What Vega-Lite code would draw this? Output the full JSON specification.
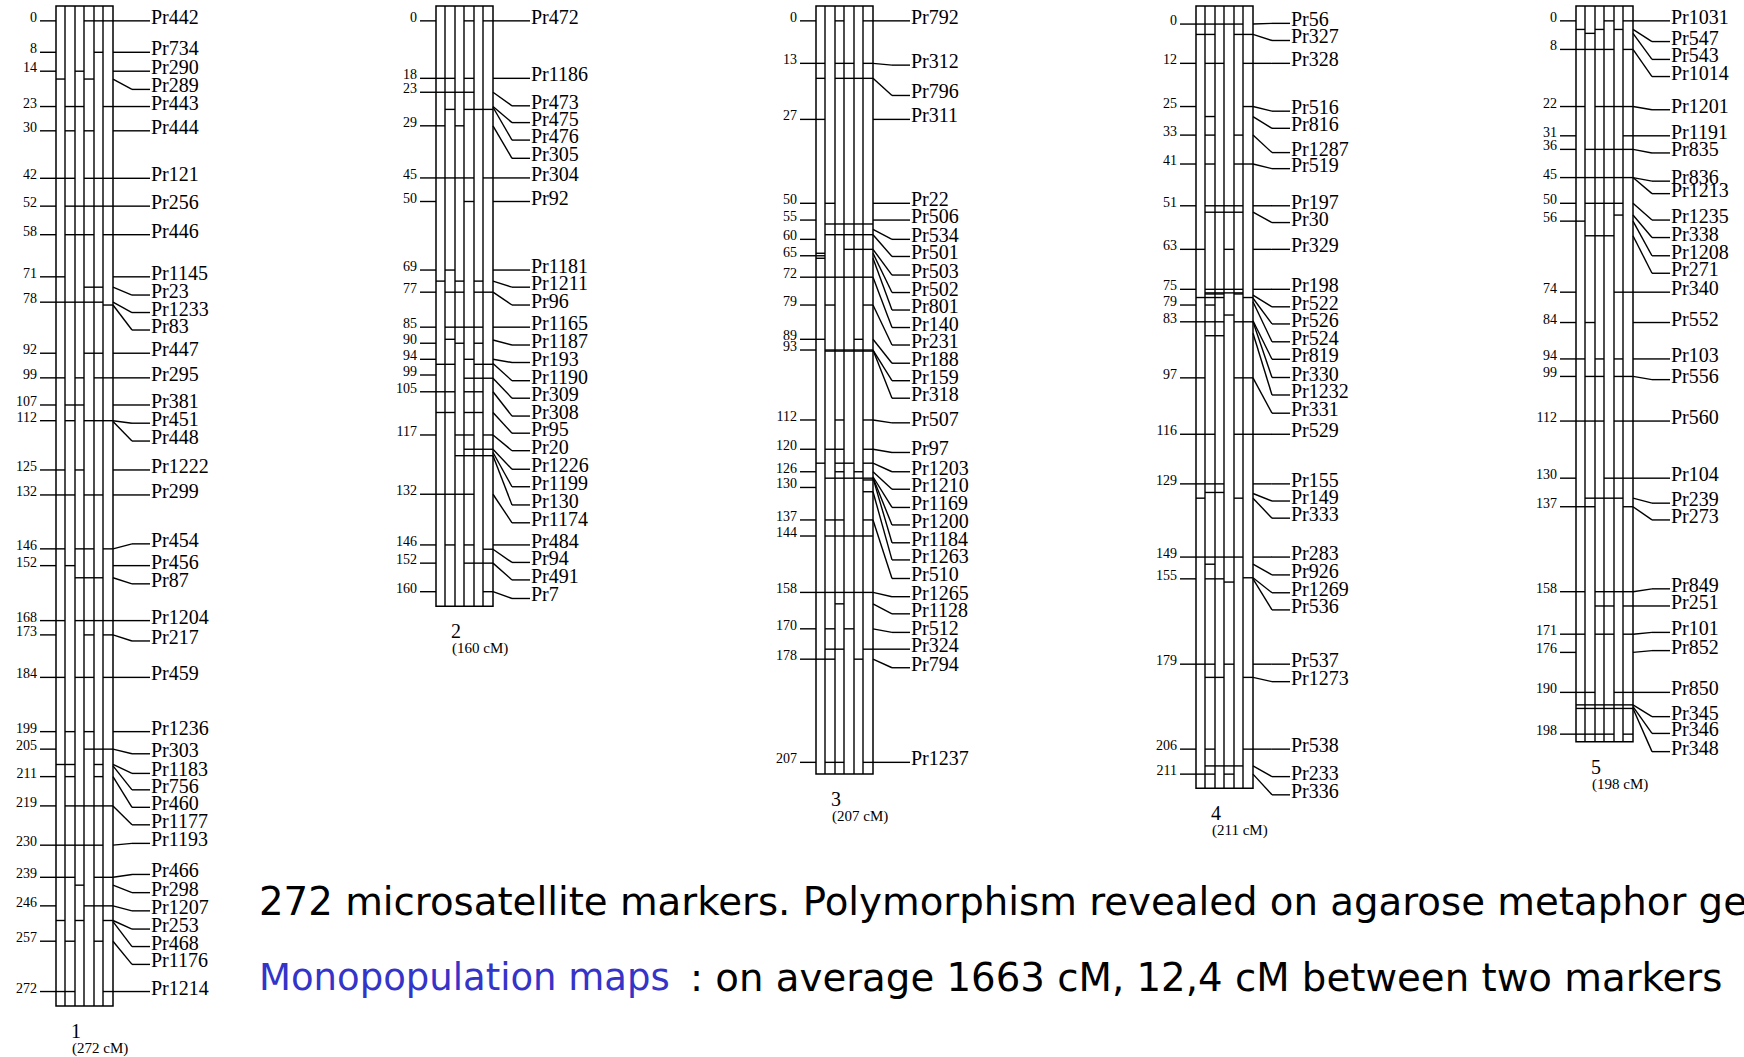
{
"$schema": "https://vega.github.io/schema/vega-lite/v6.json",
"width": 1744, "height": 1057, "autosize": "none", "padding": 0, "background": "white",
"config": {"view": {"stroke": null}},
"datasets": {
"chroms": [
{"chr":1,"len":272,"num":"1","sub":"(272 cM)"},
{"chr":2,"len":160,"num":"2","sub":"(160 cM)"},
{"chr":3,"len":207,"num":"3","sub":"(207 cM)"},
{"chr":4,"len":211,"num":"4","sub":"(211 cM)"},
{"chr":5,"len":198,"num":"5","sub":"(198 cM)"}],
"ticks": [
{"chr":1,"pos":-0.6,"lab":"0"},{"chr":1,"pos":8.2,"lab":"8"},{"chr":1,"pos":13.5,"lab":"14"},{"chr":1,"pos":23.4,"lab":"23"},{"chr":1,"pos":30.2,"lab":"30"},{"chr":1,"pos":43.5,"lab":"42"},{"chr":1,"pos":51.3,"lab":"52"},{"chr":1,"pos":59.3,"lab":"58"},{"chr":1,"pos":71.1,"lab":"71"},{"chr":1,"pos":78.2,"lab":"78"},{"chr":1,"pos":92.5,"lab":"92"},{"chr":1,"pos":99.4,"lab":"99"},{"chr":1,"pos":107.0,"lab":"107"},{"chr":1,"pos":111.4,"lab":"112"},{"chr":1,"pos":125.2,"lab":"125"},{"chr":1,"pos":132.2,"lab":"132"},{"chr":1,"pos":147.3,"lab":"146"},{"chr":1,"pos":152.0,"lab":"152"},{"chr":1,"pos":167.4,"lab":"168"},{"chr":1,"pos":171.4,"lab":"173"},{"chr":1,"pos":183.3,"lab":"184"},{"chr":1,"pos":198.5,"lab":"199"},{"chr":1,"pos":203.4,"lab":"205"},{"chr":1,"pos":211.1,"lab":"211"},{"chr":1,"pos":219.3,"lab":"219"},{"chr":1,"pos":230.3,"lab":"230"},{"chr":1,"pos":239.3,"lab":"239"},{"chr":1,"pos":247.3,"lab":"246"},{"chr":1,"pos":257.2,"lab":"257"},{"chr":1,"pos":271.3,"lab":"272"},
{"chr":2,"pos":-0.6,"lab":"0"},{"chr":2,"pos":15.5,"lab":"18"},{"chr":2,"pos":19.4,"lab":"23"},{"chr":2,"pos":28.8,"lab":"29"},{"chr":2,"pos":43.4,"lab":"45"},{"chr":2,"pos":50.0,"lab":"50"},{"chr":2,"pos":69.2,"lab":"69"},{"chr":2,"pos":75.4,"lab":"77"},{"chr":2,"pos":85.2,"lab":"85"},{"chr":2,"pos":89.7,"lab":"90"},{"chr":2,"pos":94.2,"lab":"94"},{"chr":2,"pos":98.6,"lab":"99"},{"chr":2,"pos":103.3,"lab":"105"},{"chr":2,"pos":115.4,"lab":"117"},{"chr":2,"pos":132.0,"lab":"132"},{"chr":2,"pos":146.2,"lab":"146"},{"chr":2,"pos":151.3,"lab":"152"},{"chr":2,"pos":159.3,"lab":"160"},
{"chr":3,"pos":-0.6,"lab":"0"},{"chr":3,"pos":11.3,"lab":"13"},{"chr":3,"pos":27.0,"lab":"27"},{"chr":3,"pos":50.5,"lab":"50"},{"chr":3,"pos":55.2,"lab":"55"},{"chr":3,"pos":60.6,"lab":"60"},{"chr":3,"pos":65.2,"lab":"65"},{"chr":3,"pos":71.2,"lab":"72"},{"chr":3,"pos":79.0,"lab":"79"},{"chr":3,"pos":88.6,"lab":"89"},{"chr":3,"pos":91.6,"lab":"93"},{"chr":3,"pos":111.2,"lab":"112"},{"chr":3,"pos":119.4,"lab":"120"},{"chr":3,"pos":125.7,"lab":"126"},{"chr":3,"pos":130.1,"lab":"130"},{"chr":3,"pos":139.2,"lab":"137"},{"chr":3,"pos":143.7,"lab":"144"},{"chr":3,"pos":159.5,"lab":"158"},{"chr":3,"pos":169.7,"lab":"170"},{"chr":3,"pos":178.2,"lab":"178"},{"chr":3,"pos":207.1,"lab":"207"},
{"chr":4,"pos":0.3,"lab":"0"},{"chr":4,"pos":11.3,"lab":"12"},{"chr":4,"pos":23.4,"lab":"25"},{"chr":4,"pos":31.4,"lab":"33"},{"chr":4,"pos":39.5,"lab":"41"},{"chr":4,"pos":51.2,"lab":"51"},{"chr":4,"pos":63.4,"lab":"63"},{"chr":4,"pos":74.6,"lab":"75"},{"chr":4,"pos":79.0,"lab":"79"},{"chr":4,"pos":83.7,"lab":"83"},{"chr":4,"pos":99.4,"lab":"97"},{"chr":4,"pos":115.2,"lab":"116"},{"chr":4,"pos":129.1,"lab":"129"},{"chr":4,"pos":149.6,"lab":"149"},{"chr":4,"pos":155.7,"lab":"155"},{"chr":4,"pos":179.6,"lab":"179"},{"chr":4,"pos":203.4,"lab":"206"},{"chr":4,"pos":210.4,"lab":"211"},
{"chr":5,"pos":-0.6,"lab":"0"},{"chr":5,"pos":7.4,"lab":"8"},{"chr":5,"pos":23.4,"lab":"22"},{"chr":5,"pos":31.6,"lab":"31"},{"chr":5,"pos":35.4,"lab":"36"},{"chr":5,"pos":43.3,"lab":"45"},{"chr":5,"pos":50.5,"lab":"50"},{"chr":5,"pos":55.5,"lab":"56"},{"chr":5,"pos":75.4,"lab":"74"},{"chr":5,"pos":83.9,"lab":"84"},{"chr":5,"pos":94.1,"lab":"94"},{"chr":5,"pos":99.0,"lab":"99"},{"chr":5,"pos":111.5,"lab":"112"},{"chr":5,"pos":127.5,"lab":"130"},{"chr":5,"pos":135.5,"lab":"137"},{"chr":5,"pos":159.3,"lab":"158"},{"chr":5,"pos":171.2,"lab":"171"},{"chr":5,"pos":176.3,"lab":"176"},{"chr":5,"pos":187.5,"lab":"190"},{"chr":5,"pos":199.2,"lab":"198"}],
"segs": [
{"chr":1,"pos":-0.6,"cols":"345"},{"chr":1,"pos":8.2,"cols":"4"},{"chr":1,"pos":13.5,"cols":"2"},{"chr":1,"pos":15.7,"cols":"03"},{"chr":1,"pos":23.4,"cols":"125"},{"chr":1,"pos":30.2,"cols":"13"},{"chr":1,"pos":43.5,"cols":"01345"},{"chr":1,"pos":51.3,"cols":"12345"},{"chr":1,"pos":59.3,"cols":"1235"},{"chr":1,"pos":71.1,"cols":"0"},{"chr":1,"pos":74.0,"cols":"34"},{"chr":1,"pos":78.2,"cols":"01234"},{"chr":1,"pos":79.0,"cols":"5"},{"chr":1,"pos":92.5,"cols":"34"},{"chr":1,"pos":99.4,"cols":"0245"},{"chr":1,"pos":107.0,"cols":"12"},{"chr":1,"pos":111.4,"cols":"1345"},{"chr":1,"pos":125.2,"cols":"02"},{"chr":1,"pos":132.2,"cols":"0134"},{"chr":1,"pos":147.3,"cols":"0235"},{"chr":1,"pos":152.0,"cols":"1"},{"chr":1,"pos":155.4,"cols":"234"},{"chr":1,"pos":167.4,"cols":"02345"},{"chr":1,"pos":171.4,"cols":"35"},{"chr":1,"pos":183.3,"cols":"0235"},{"chr":1,"pos":198.5,"cols":"13"},{"chr":1,"pos":203.4,"cols":"345"},{"chr":1,"pos":207.7,"cols":"014"},{"chr":1,"pos":211.1,"cols":"14"},{"chr":1,"pos":219.3,"cols":"12345"},{"chr":1,"pos":230.3,"cols":"01234"},{"chr":1,"pos":239.3,"cols":"0145"},{"chr":1,"pos":241.5,"cols":"2"},{"chr":1,"pos":247.3,"cols":"345"},{"chr":1,"pos":251.4,"cols":"025"},{"chr":1,"pos":257.2,"cols":"14"},{"chr":1,"pos":271.3,"cols":"015"},
{"chr":2,"pos":-0.6,"cols":"35"},{"chr":2,"pos":15.5,"cols":"013"},{"chr":2,"pos":19.4,"cols":"0123"},{"chr":2,"pos":24.2,"cols":"1345"},{"chr":2,"pos":28.8,"cols":"02"},{"chr":2,"pos":43.4,"cols":"01235"},{"chr":2,"pos":50.0,"cols":"3"},{"chr":2,"pos":69.2,"cols":"1"},{"chr":2,"pos":72.3,"cols":"024"},{"chr":2,"pos":75.4,"cols":"1245"},{"chr":2,"pos":85.2,"cols":"1234"},{"chr":2,"pos":88.6,"cols":"1"},{"chr":2,"pos":89.7,"cols":"24"},{"chr":2,"pos":94.2,"cols":"3"},{"chr":2,"pos":95.6,"cols":"0145"},{"chr":2,"pos":99.5,"cols":"345"},{"chr":2,"pos":103.3,"cols":"0134"},{"chr":2,"pos":109.1,"cols":"0134"},{"chr":2,"pos":115.4,"cols":"235"},{"chr":2,"pos":119.4,"cols":"345"},{"chr":2,"pos":121.2,"cols":"2345"},{"chr":2,"pos":132.0,"cols":"0123"},{"chr":2,"pos":146.2,"cols":"13"},{"chr":2,"pos":147.4,"cols":"5"},{"chr":2,"pos":151.3,"cols":"345"},{"chr":2,"pos":159.3,"cols":"5"},
{"chr":3,"pos":-0.6,"cols":"25"},{"chr":3,"pos":11.3,"cols":"0235"},{"chr":3,"pos":15.5,"cols":"02345"},{"chr":3,"pos":27.0,"cols":"0"},{"chr":3,"pos":50.5,"cols":"1"},{"chr":3,"pos":56.3,"cols":"12345"},{"chr":3,"pos":59.3,"cols":"12345"},{"chr":3,"pos":63.4,"cols":"345"},{"chr":3,"pos":64.5,"cols":"0"},{"chr":3,"pos":65.2,"cols":"0"},{"chr":3,"pos":65.9,"cols":"0"},{"chr":3,"pos":71.2,"cols":"012345"},{"chr":3,"pos":79.0,"cols":"15"},{"chr":3,"pos":88.6,"cols":"04"},{"chr":3,"pos":91.6,"cols":"12345"},{"chr":3,"pos":91.9,"cols":"12345"},{"chr":3,"pos":111.2,"cols":"25"},{"chr":3,"pos":119.4,"cols":"125"},{"chr":3,"pos":123.3,"cols":"0235"},{"chr":3,"pos":125.7,"cols":"24"},{"chr":3,"pos":127.5,"cols":"12345"},{"chr":3,"pos":128.0,"cols":"5"},{"chr":3,"pos":131.3,"cols":"5"},{"chr":3,"pos":139.2,"cols":"125"},{"chr":3,"pos":143.7,"cols":"12345"},{"chr":3,"pos":159.5,"cols":"012345"},{"chr":3,"pos":162.7,"cols":"2"},{"chr":3,"pos":169.7,"cols":"13"},{"chr":3,"pos":175.4,"cols":"125"},{"chr":3,"pos":178.2,"cols":"014"},{"chr":3,"pos":207.1,"cols":"125"},
{"chr":4,"pos":0.3,"cols":"01234"},{"chr":4,"pos":3.2,"cols":"0145"},{"chr":4,"pos":11.3,"cols":"125"},{"chr":4,"pos":23.4,"cols":"5"},{"chr":4,"pos":26.2,"cols":"1"},{"chr":4,"pos":31.4,"cols":"14"},{"chr":4,"pos":39.5,"cols":"145"},{"chr":4,"pos":51.2,"cols":"1234"},{"chr":4,"pos":53.0,"cols":"1234"},{"chr":4,"pos":63.4,"cols":"03"},{"chr":4,"pos":74.6,"cols":"1234"},{"chr":4,"pos":75.6,"cols":"1234"},{"chr":4,"pos":75.9,"cols":"124"},{"chr":4,"pos":76.9,"cols":"0125"},{"chr":4,"pos":79.0,"cols":"1"},{"chr":4,"pos":81.8,"cols":"3"},{"chr":4,"pos":83.7,"cols":"01245"},{"chr":4,"pos":87.6,"cols":"12"},{"chr":4,"pos":99.4,"cols":"045"},{"chr":4,"pos":115.2,"cols":"0145"},{"chr":4,"pos":129.1,"cols":"012"},{"chr":4,"pos":131.5,"cols":"12"},{"chr":4,"pos":133.1,"cols":"04"},{"chr":4,"pos":149.6,"cols":"01234"},{"chr":4,"pos":151.6,"cols":"1"},{"chr":4,"pos":155.4,"cols":"5"},{"chr":4,"pos":155.7,"cols":"12"},{"chr":4,"pos":156.6,"cols":"3"},{"chr":4,"pos":179.6,"cols":"013"},{"chr":4,"pos":183.3,"cols":"125"},{"chr":4,"pos":203.4,"cols":"15"},{"chr":4,"pos":208.1,"cols":"1234"},{"chr":4,"pos":210.4,"cols":"013"},
{"chr":5,"pos":-0.6,"cols":"35"},{"chr":5,"pos":1.8,"cols":"024"},{"chr":5,"pos":2.9,"cols":"1"},{"chr":5,"pos":7.4,"cols":"01235"},{"chr":5,"pos":23.4,"cols":"02345"},{"chr":5,"pos":31.6,"cols":"5"},{"chr":5,"pos":35.4,"cols":"12345"},{"chr":5,"pos":43.3,"cols":"012345"},{"chr":5,"pos":50.5,"cols":"1234"},{"chr":5,"pos":53.8,"cols":"4"},{"chr":5,"pos":55.5,"cols":"0"},{"chr":5,"pos":59.6,"cols":"123"},{"chr":5,"pos":75.4,"cols":"45"},{"chr":5,"pos":83.9,"cols":"1"},{"chr":5,"pos":94.1,"cols":"024"},{"chr":5,"pos":99.0,"cols":"1245"},{"chr":5,"pos":111.5,"cols":"01245"},{"chr":5,"pos":127.5,"cols":"345"},{"chr":5,"pos":133.1,"cols":"1234"},{"chr":5,"pos":135.5,"cols":"015"},{"chr":5,"pos":159.3,"cols":"02345"},{"chr":5,"pos":163.3,"cols":"235"},{"chr":5,"pos":171.2,"cols":"0235"},{"chr":5,"pos":187.5,"cols":"0145"},{"chr":5,"pos":191.0,"cols":"012345"},{"chr":5,"pos":192.0,"cols":"012345"},{"chr":5,"pos":199.2,"cols":"01235"}],
"markers": [
{"chr":1,"name":"Pr442","pos":-0.6,"lpos":-0.6},{"chr":1,"name":"Pr734","pos":8.2,"lpos":8.2},{"chr":1,"name":"Pr290","pos":13.5,"lpos":13.5},{"chr":1,"name":"Pr289","pos":15.7,"lpos":18.6},{"chr":1,"name":"Pr443","pos":23.4,"lpos":23.4},{"chr":1,"name":"Pr444","pos":30.2,"lpos":30.2},{"chr":1,"name":"Pr121","pos":43.5,"lpos":43.5},{"chr":1,"name":"Pr256","pos":51.3,"lpos":51.3},{"chr":1,"name":"Pr446","pos":59.3,"lpos":59.3},{"chr":1,"name":"Pr1145","pos":71.1,"lpos":71.1},{"chr":1,"name":"Pr23","pos":74.0,"lpos":76.2},{"chr":1,"name":"Pr1233","pos":78.2,"lpos":81.1},{"chr":1,"name":"Pr83","pos":79.0,"lpos":86.0},{"chr":1,"name":"Pr447","pos":92.5,"lpos":92.5},{"chr":1,"name":"Pr295","pos":99.4,"lpos":99.4},{"chr":1,"name":"Pr381","pos":107.0,"lpos":107.0},{"chr":1,"name":"Pr451","pos":111.4,"lpos":112.1},{"chr":1,"name":"Pr448","pos":111.6,"lpos":117.1},{"chr":1,"name":"Pr1222","pos":125.2,"lpos":125.2},{"chr":1,"name":"Pr299","pos":132.2,"lpos":132.2},{"chr":1,"name":"Pr454","pos":147.3,"lpos":145.9},{"chr":1,"name":"Pr456","pos":152.0,"lpos":152.0},{"chr":1,"name":"Pr87","pos":155.4,"lpos":157.1},{"chr":1,"name":"Pr1204","pos":167.4,"lpos":167.4},{"chr":1,"name":"Pr217","pos":171.4,"lpos":173.1},{"chr":1,"name":"Pr459","pos":183.3,"lpos":183.3},{"chr":1,"name":"Pr1236","pos":198.5,"lpos":198.5},{"chr":1,"name":"Pr303","pos":203.4,"lpos":204.7},{"chr":1,"name":"Pr1183","pos":207.7,"lpos":210.2},{"chr":1,"name":"Pr756","pos":208.1,"lpos":214.8},{"chr":1,"name":"Pr460","pos":211.1,"lpos":219.7},{"chr":1,"name":"Pr1177","pos":219.3,"lpos":224.6},{"chr":1,"name":"Pr1193","pos":230.3,"lpos":229.8},{"chr":1,"name":"Pr466","pos":239.3,"lpos":238.5},{"chr":1,"name":"Pr298","pos":241.5,"lpos":243.6},{"chr":1,"name":"Pr1207","pos":247.3,"lpos":248.7},{"chr":1,"name":"Pr253","pos":251.4,"lpos":253.8},{"chr":1,"name":"Pr468","pos":251.7,"lpos":258.7},{"chr":1,"name":"Pr1176","pos":257.2,"lpos":263.7},{"chr":1,"name":"Pr1214","pos":271.3,"lpos":271.3},
{"chr":2,"name":"Pr472","pos":-0.6,"lpos":-0.6},{"chr":2,"name":"Pr1186","pos":15.5,"lpos":15.5},{"chr":2,"name":"Pr473","pos":19.4,"lpos":23.2},{"chr":2,"name":"Pr475","pos":23.4,"lpos":27.9},{"chr":2,"name":"Pr476","pos":23.6,"lpos":32.8},{"chr":2,"name":"Pr305","pos":28.8,"lpos":37.9},{"chr":2,"name":"Pr304","pos":43.4,"lpos":43.4},{"chr":2,"name":"Pr92","pos":50.0,"lpos":50.0},{"chr":2,"name":"Pr1181","pos":69.2,"lpos":69.2},{"chr":2,"name":"Pr1211","pos":72.3,"lpos":74.0},{"chr":2,"name":"Pr96","pos":75.4,"lpos":79.0},{"chr":2,"name":"Pr1165","pos":85.2,"lpos":85.2},{"chr":2,"name":"Pr1187","pos":88.8,"lpos":90.2},{"chr":2,"name":"Pr193","pos":94.2,"lpos":95.1},{"chr":2,"name":"Pr1190","pos":95.4,"lpos":100.2},{"chr":2,"name":"Pr309","pos":99.5,"lpos":105.1},{"chr":2,"name":"Pr308","pos":103.3,"lpos":110.1},{"chr":2,"name":"Pr95","pos":109.1,"lpos":114.9},{"chr":2,"name":"Pr20","pos":115.4,"lpos":119.8},{"chr":2,"name":"Pr1226","pos":119.4,"lpos":125.0},{"chr":2,"name":"Pr1199","pos":120.3,"lpos":129.9},{"chr":2,"name":"Pr130","pos":121.2,"lpos":135.0},{"chr":2,"name":"Pr1174","pos":132.0,"lpos":140.0},{"chr":2,"name":"Pr484","pos":146.2,"lpos":146.2},{"chr":2,"name":"Pr94","pos":147.4,"lpos":151.1},{"chr":2,"name":"Pr491","pos":151.3,"lpos":156.0},{"chr":2,"name":"Pr7","pos":159.3,"lpos":161.2},
{"chr":3,"name":"Pr792","pos":-0.6,"lpos":-0.6},{"chr":3,"name":"Pr312","pos":11.3,"lpos":11.8},{"chr":3,"name":"Pr796","pos":15.5,"lpos":20.3},{"chr":3,"name":"Pr311","pos":27.0,"lpos":27.0},{"chr":3,"name":"Pr22","pos":50.5,"lpos":50.5},{"chr":3,"name":"Pr506","pos":55.2,"lpos":55.2},{"chr":3,"name":"Pr534","pos":57.8,"lpos":60.6},{"chr":3,"name":"Pr501","pos":59.3,"lpos":65.4},{"chr":3,"name":"Pr503","pos":63.4,"lpos":70.6},{"chr":3,"name":"Pr502","pos":64.5,"lpos":75.5},{"chr":3,"name":"Pr801","pos":65.9,"lpos":80.4},{"chr":3,"name":"Pr140","pos":71.2,"lpos":85.3},{"chr":3,"name":"Pr231","pos":79.0,"lpos":90.2},{"chr":3,"name":"Pr188","pos":88.6,"lpos":95.3},{"chr":3,"name":"Pr159","pos":91.6,"lpos":100.2},{"chr":3,"name":"Pr318","pos":91.6,"lpos":105.1},{"chr":3,"name":"Pr507","pos":111.2,"lpos":112.0},{"chr":3,"name":"Pr97","pos":119.4,"lpos":120.3},{"chr":3,"name":"Pr1203","pos":123.3,"lpos":125.7},{"chr":3,"name":"Pr1210","pos":125.7,"lpos":130.6},{"chr":3,"name":"Pr1169","pos":127.1,"lpos":135.7},{"chr":3,"name":"Pr1200","pos":127.4,"lpos":140.6},{"chr":3,"name":"Pr1184","pos":127.5,"lpos":145.6},{"chr":3,"name":"Pr1263","pos":131.3,"lpos":150.4},{"chr":3,"name":"Pr510","pos":139.2,"lpos":155.6},{"chr":3,"name":"Pr1265","pos":159.5,"lpos":160.7},{"chr":3,"name":"Pr1128","pos":162.7,"lpos":165.5},{"chr":3,"name":"Pr512","pos":169.7,"lpos":170.7},{"chr":3,"name":"Pr324","pos":175.4,"lpos":175.4},{"chr":3,"name":"Pr794","pos":178.2,"lpos":180.6},{"chr":3,"name":"Pr1237","pos":207.1,"lpos":207.1},
{"chr":4,"name":"Pr56","pos":0.3,"lpos":0.1},{"chr":4,"name":"Pr327","pos":3.2,"lpos":4.9},{"chr":4,"name":"Pr328","pos":11.3,"lpos":11.3},{"chr":4,"name":"Pr516","pos":23.4,"lpos":24.7},{"chr":4,"name":"Pr816","pos":26.2,"lpos":29.5},{"chr":4,"name":"Pr1287","pos":31.4,"lpos":36.3},{"chr":4,"name":"Pr519","pos":39.5,"lpos":40.8},{"chr":4,"name":"Pr197","pos":51.2,"lpos":51.2},{"chr":4,"name":"Pr30","pos":53.0,"lpos":55.9},{"chr":4,"name":"Pr329","pos":63.4,"lpos":63.4},{"chr":4,"name":"Pr198","pos":74.6,"lpos":74.6},{"chr":4,"name":"Pr522","pos":76.2,"lpos":79.5},{"chr":4,"name":"Pr526","pos":77.1,"lpos":84.3},{"chr":4,"name":"Pr524","pos":78.1,"lpos":89.3},{"chr":4,"name":"Pr819","pos":83.4,"lpos":94.2},{"chr":4,"name":"Pr330","pos":83.7,"lpos":99.3},{"chr":4,"name":"Pr1232","pos":86.9,"lpos":104.2},{"chr":4,"name":"Pr331","pos":99.4,"lpos":109.3},{"chr":4,"name":"Pr529","pos":115.2,"lpos":115.2},{"chr":4,"name":"Pr155","pos":129.1,"lpos":129.1},{"chr":4,"name":"Pr149","pos":131.8,"lpos":133.9},{"chr":4,"name":"Pr333","pos":133.1,"lpos":138.7},{"chr":4,"name":"Pr283","pos":149.6,"lpos":149.6},{"chr":4,"name":"Pr926","pos":151.6,"lpos":154.6},{"chr":4,"name":"Pr1269","pos":155.4,"lpos":159.6},{"chr":4,"name":"Pr536","pos":155.7,"lpos":164.4},{"chr":4,"name":"Pr537","pos":179.6,"lpos":179.6},{"chr":4,"name":"Pr1273","pos":183.3,"lpos":184.5},{"chr":4,"name":"Pr538","pos":203.4,"lpos":203.4},{"chr":4,"name":"Pr233","pos":208.1,"lpos":211.1},{"chr":4,"name":"Pr336","pos":210.4,"lpos":216.2},
{"chr":5,"name":"Pr1031","pos":-0.6,"lpos":-0.6},{"chr":5,"name":"Pr547","pos":1.8,"lpos":5.2},{"chr":5,"name":"Pr543","pos":2.9,"lpos":10.2},{"chr":5,"name":"Pr1014","pos":7.4,"lpos":15.0},{"chr":5,"name":"Pr1201","pos":23.4,"lpos":24.3},{"chr":5,"name":"Pr1191","pos":31.6,"lpos":31.6},{"chr":5,"name":"Pr835","pos":35.4,"lpos":36.4},{"chr":5,"name":"Pr836","pos":43.3,"lpos":44.3},{"chr":5,"name":"Pr1213","pos":43.3,"lpos":47.8},{"chr":5,"name":"Pr1235","pos":50.5,"lpos":55.2},{"chr":5,"name":"Pr338","pos":53.8,"lpos":60.1},{"chr":5,"name":"Pr1208","pos":55.5,"lpos":65.2},{"chr":5,"name":"Pr271","pos":59.6,"lpos":70.1},{"chr":5,"name":"Pr340","pos":75.4,"lpos":75.4},{"chr":5,"name":"Pr552","pos":83.9,"lpos":83.9},{"chr":5,"name":"Pr103","pos":94.1,"lpos":94.1},{"chr":5,"name":"Pr556","pos":99.0,"lpos":99.9},{"chr":5,"name":"Pr560","pos":111.5,"lpos":111.5},{"chr":5,"name":"Pr104","pos":127.5,"lpos":127.5},{"chr":5,"name":"Pr239","pos":133.1,"lpos":134.5},{"chr":5,"name":"Pr273","pos":135.5,"lpos":139.2},{"chr":5,"name":"Pr849","pos":159.3,"lpos":158.5},{"chr":5,"name":"Pr251","pos":163.3,"lpos":163.3},{"chr":5,"name":"Pr101","pos":171.2,"lpos":170.7},{"chr":5,"name":"Pr852","pos":176.3,"lpos":175.8},{"chr":5,"name":"Pr850","pos":187.5,"lpos":187.5},{"chr":5,"name":"Pr345","pos":191.0,"lpos":194.3},{"chr":5,"name":"Pr346","pos":191.5,"lpos":199.0},{"chr":5,"name":"Pr348","pos":192.0,"lpos":204.1}],
"notes": [{"t":"272 microsatellite markers. Polymorphism revealed on agarose metaphor gel"}],
"notes2a": [{"t":"Monopopulation maps"}],
"notes2b": [{"t":": on average 1663 cM, 12,4 cM between two markers"}]
},
"layer": [
{"data":{"name":"chroms"},"mark":{"type":"rect","fill":"white","stroke":"black","strokeWidth":1.5,"x2Offset":57,"yOffset":12,"y2Offset":-17},
 "encoding":{"x":{"field":"chr","type":"quantitative","scale":{"domain":[1,5],"range":[56,1576],"nice":false,"zero":false},"axis":null},"x2":{"field":"chr"},
 "y":{"field":"len","type":"quantitative","scale":{"domain":[0,272],"range":[23,994.04],"nice":false,"zero":false},"axis":null},"y2":{"datum":0}}},
{"data":{"name":"chroms"},"mark":{"type":"rule","color":"black","strokeWidth":1.4,"xOffset":9,"yOffset":12,"y2Offset":-17},
 "encoding":{"x":{"field":"chr","type":"quantitative","scale":{"domain":[1,5],"range":[56,1576],"nice":false,"zero":false},"axis":null},
 "y":{"field":"len","type":"quantitative","scale":{"domain":[0,272],"range":[23,994.04],"nice":false,"zero":false},"axis":null},"y2":{"datum":0}}},
{"data":{"name":"chroms"},"mark":{"type":"rule","color":"black","strokeWidth":1.4,"xOffset":19,"yOffset":12,"y2Offset":-17},
 "encoding":{"x":{"field":"chr","type":"quantitative","scale":{"domain":[1,5],"range":[56,1576],"nice":false,"zero":false},"axis":null},
 "y":{"field":"len","type":"quantitative","scale":{"domain":[0,272],"range":[23,994.04],"nice":false,"zero":false},"axis":null},"y2":{"datum":0}}},
{"data":{"name":"chroms"},"mark":{"type":"rule","color":"black","strokeWidth":1.4,"xOffset":28,"yOffset":12,"y2Offset":-17},
 "encoding":{"x":{"field":"chr","type":"quantitative","scale":{"domain":[1,5],"range":[56,1576],"nice":false,"zero":false},"axis":null},
 "y":{"field":"len","type":"quantitative","scale":{"domain":[0,272],"range":[23,994.04],"nice":false,"zero":false},"axis":null},"y2":{"datum":0}}},
{"data":{"name":"chroms"},"mark":{"type":"rule","color":"black","strokeWidth":1.4,"xOffset":38,"yOffset":12,"y2Offset":-17},
 "encoding":{"x":{"field":"chr","type":"quantitative","scale":{"domain":[1,5],"range":[56,1576],"nice":false,"zero":false},"axis":null},
 "y":{"field":"len","type":"quantitative","scale":{"domain":[0,272],"range":[23,994.04],"nice":false,"zero":false},"axis":null},"y2":{"datum":0}}},
{"data":{"name":"chroms"},"mark":{"type":"rule","color":"black","strokeWidth":1.4,"xOffset":47,"yOffset":12,"y2Offset":-17},
 "encoding":{"x":{"field":"chr","type":"quantitative","scale":{"domain":[1,5],"range":[56,1576],"nice":false,"zero":false},"axis":null},
 "y":{"field":"len","type":"quantitative","scale":{"domain":[0,272],"range":[23,994.04],"nice":false,"zero":false},"axis":null},"y2":{"datum":0}}},
{"data":{"name":"ticks"},"mark":{"type":"rule","color":"black","strokeWidth":1.4,"xOffset":-16,"x2Offset":0},
 "encoding":{"x":{"field":"chr","type":"quantitative","scale":{"domain":[1,5],"range":[56,1576],"nice":false,"zero":false},"axis":null},"x2":{"field":"chr"},
 "y":{"field":"pos","type":"quantitative","scale":{"domain":[0,272],"range":[23,994.04],"nice":false,"zero":false},"axis":null}}},
{"data":{"name":"ticks"},"mark":{"type":"text","align":"right","baseline":"middle","dx":-19,"dy":-3,"font":"Liberation Serif","fontSize":14,"color":"black"},
 "encoding":{"x":{"field":"chr","type":"quantitative","scale":{"domain":[1,5],"range":[56,1576],"nice":false,"zero":false},"axis":null},
 "y":{"field":"pos","type":"quantitative","scale":{"domain":[0,272],"range":[23,994.04],"nice":false,"zero":false},"axis":null},"text":{"field":"lab"}}},
{"data":{"name":"segs"},"transform":[{"filter":"indexof(datum.cols,'0')>=0"}],"mark":{"type":"rule","color":"black","strokeWidth":1.4,"xOffset":0,"x2Offset":9},
 "encoding":{"x":{"field":"chr","type":"quantitative","scale":{"domain":[1,5],"range":[56,1576],"nice":false,"zero":false},"axis":null},"x2":{"field":"chr"},
 "y":{"field":"pos","type":"quantitative","scale":{"domain":[0,272],"range":[23,994.04],"nice":false,"zero":false},"axis":null}}},
{"data":{"name":"segs"},"transform":[{"filter":"indexof(datum.cols,'1')>=0"}],"mark":{"type":"rule","color":"black","strokeWidth":1.4,"xOffset":9,"x2Offset":19},
 "encoding":{"x":{"field":"chr","type":"quantitative","scale":{"domain":[1,5],"range":[56,1576],"nice":false,"zero":false},"axis":null},"x2":{"field":"chr"},
 "y":{"field":"pos","type":"quantitative","scale":{"domain":[0,272],"range":[23,994.04],"nice":false,"zero":false},"axis":null}}},
{"data":{"name":"segs"},"transform":[{"filter":"indexof(datum.cols,'2')>=0"}],"mark":{"type":"rule","color":"black","strokeWidth":1.4,"xOffset":19,"x2Offset":28},
 "encoding":{"x":{"field":"chr","type":"quantitative","scale":{"domain":[1,5],"range":[56,1576],"nice":false,"zero":false},"axis":null},"x2":{"field":"chr"},
 "y":{"field":"pos","type":"quantitative","scale":{"domain":[0,272],"range":[23,994.04],"nice":false,"zero":false},"axis":null}}},
{"data":{"name":"segs"},"transform":[{"filter":"indexof(datum.cols,'3')>=0"}],"mark":{"type":"rule","color":"black","strokeWidth":1.4,"xOffset":28,"x2Offset":38},
 "encoding":{"x":{"field":"chr","type":"quantitative","scale":{"domain":[1,5],"range":[56,1576],"nice":false,"zero":false},"axis":null},"x2":{"field":"chr"},
 "y":{"field":"pos","type":"quantitative","scale":{"domain":[0,272],"range":[23,994.04],"nice":false,"zero":false},"axis":null}}},
{"data":{"name":"segs"},"transform":[{"filter":"indexof(datum.cols,'4')>=0"}],"mark":{"type":"rule","color":"black","strokeWidth":1.4,"xOffset":38,"x2Offset":47},
 "encoding":{"x":{"field":"chr","type":"quantitative","scale":{"domain":[1,5],"range":[56,1576],"nice":false,"zero":false},"axis":null},"x2":{"field":"chr"},
 "y":{"field":"pos","type":"quantitative","scale":{"domain":[0,272],"range":[23,994.04],"nice":false,"zero":false},"axis":null}}},
{"data":{"name":"segs"},"transform":[{"filter":"indexof(datum.cols,'5')>=0"}],"mark":{"type":"rule","color":"black","strokeWidth":1.4,"xOffset":47,"x2Offset":57},
 "encoding":{"x":{"field":"chr","type":"quantitative","scale":{"domain":[1,5],"range":[56,1576],"nice":false,"zero":false},"axis":null},"x2":{"field":"chr"},
 "y":{"field":"pos","type":"quantitative","scale":{"domain":[0,272],"range":[23,994.04],"nice":false,"zero":false},"axis":null}}},
{"data":{"name":"markers"},"mark":{"type":"rule","color":"black","strokeWidth":1.4,"xOffset":57,"x2Offset":76},
 "encoding":{"x":{"field":"chr","type":"quantitative","scale":{"domain":[1,5],"range":[56,1576],"nice":false,"zero":false},"axis":null},"x2":{"field":"chr"},
 "y":{"field":"pos","type":"quantitative","scale":{"domain":[0,272],"range":[23,994.04],"nice":false,"zero":false},"axis":null},"y2":{"field":"lpos"}}},
{"data":{"name":"markers"},"mark":{"type":"rule","color":"black","strokeWidth":1.4,"xOffset":76,"x2Offset":94},
 "encoding":{"x":{"field":"chr","type":"quantitative","scale":{"domain":[1,5],"range":[56,1576],"nice":false,"zero":false},"axis":null},"x2":{"field":"chr"},
 "y":{"field":"lpos","type":"quantitative","scale":{"domain":[0,272],"range":[23,994.04],"nice":false,"zero":false},"axis":null}}},
{"data":{"name":"markers"},"mark":{"type":"text","align":"left","baseline":"middle","dx":95,"dy":-3,"font":"Liberation Serif","fontSize":20,"color":"black"},
 "encoding":{"x":{"field":"chr","type":"quantitative","scale":{"domain":[1,5],"range":[56,1576],"nice":false,"zero":false},"axis":null},
 "y":{"field":"lpos","type":"quantitative","scale":{"domain":[0,272],"range":[23,994.04],"nice":false,"zero":false},"axis":null},"text":{"field":"name"}}},
{"data":{"name":"chroms"},"mark":{"type":"text","align":"center","baseline":"middle","dx":20,"dy":38,"font":"Liberation Serif","fontSize":20,"color":"black"},
 "encoding":{"x":{"field":"chr","type":"quantitative","scale":{"domain":[1,5],"range":[56,1576],"nice":false,"zero":false},"axis":null},
 "y":{"field":"len","type":"quantitative","scale":{"domain":[0,272],"range":[23,994.04],"nice":false,"zero":false},"axis":null},"text":{"field":"num"}}},
{"data":{"name":"chroms"},"mark":{"type":"text","align":"left","baseline":"middle","dx":16,"dy":54,"font":"Liberation Serif","fontSize":15,"color":"black"},
 "encoding":{"x":{"field":"chr","type":"quantitative","scale":{"domain":[1,5],"range":[56,1576],"nice":false,"zero":false},"axis":null},
 "y":{"field":"len","type":"quantitative","scale":{"domain":[0,272],"range":[23,994.04],"nice":false,"zero":false},"axis":null},"text":{"field":"sub"}}},
{"data":{"name":"notes"},"mark":{"type":"text","align":"left","baseline":"middle","font":"DejaVu Sans","fontSize":38.7,"color":"black"},
 "encoding":{"x":{"datum":1.5342,"type":"quantitative","scale":{"domain":[1,5],"range":[56,1576],"nice":false,"zero":false},"axis":null},
 "y":{"datum":246.5,"type":"quantitative","scale":{"domain":[0,272],"range":[23,994.04],"nice":false,"zero":false},"axis":null},"text":{"field":"t"}}},
{"data":{"name":"notes2a"},"mark":{"type":"text","align":"left","baseline":"middle","font":"DejaVu Sans","fontSize":37,"color":"#3434c8"},
 "encoding":{"x":{"datum":1.5342,"type":"quantitative","scale":{"domain":[1,5],"range":[56,1576],"nice":false,"zero":false},"axis":null},
 "y":{"datum":267.8,"type":"quantitative","scale":{"domain":[0,272],"range":[23,994.04],"nice":false,"zero":false},"axis":null},"text":{"field":"t"}}},
{"data":{"name":"notes2b"},"mark":{"type":"text","align":"left","baseline":"middle","font":"DejaVu Sans","fontSize":38.7,"color":"black"},
 "encoding":{"x":{"datum":2.6684,"type":"quantitative","scale":{"domain":[1,5],"range":[56,1576],"nice":false,"zero":false},"axis":null},
 "y":{"datum":267.8,"type":"quantitative","scale":{"domain":[0,272],"range":[23,994.04],"nice":false,"zero":false},"axis":null},"text":{"field":"t"}}}
]
}
